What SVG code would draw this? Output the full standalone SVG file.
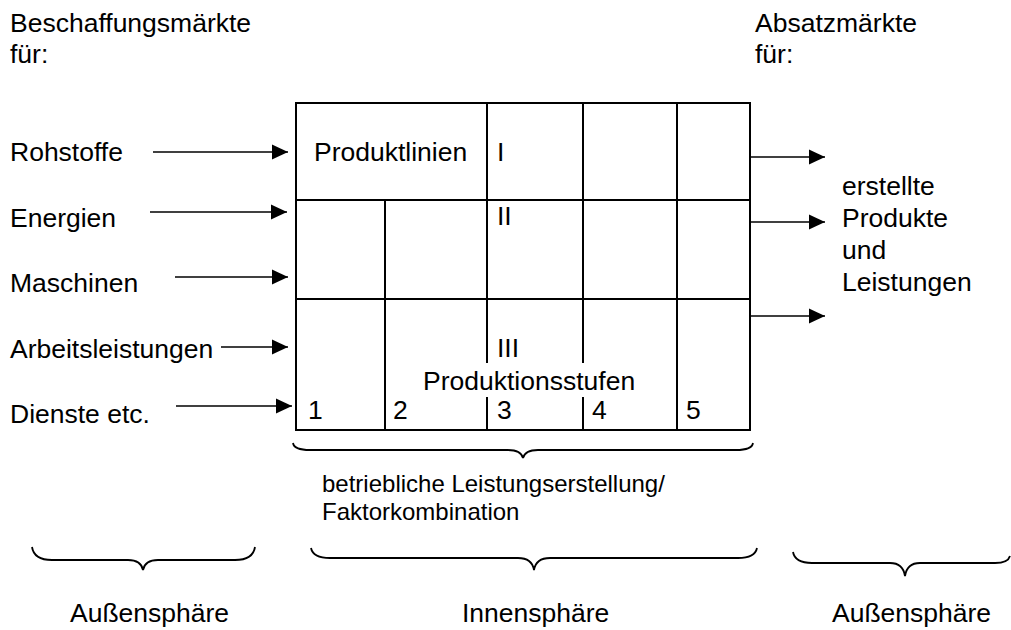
<svg xmlns="http://www.w3.org/2000/svg" width="1011" height="630" viewBox="0 0 1011 630">
<style>
text{font-family:"Liberation Sans",Arial,Helvetica,sans-serif;font-size:26.5px;fill:#000}
.sm{font-size:24px}
.grid{stroke:#000;stroke-width:2;fill:none}
.arr{stroke:#000;stroke-width:1.6;fill:none;marker-end:url(#ah)}
.brace{stroke:#000;stroke-width:1.8;fill:none}
</style>
<defs>
<marker id="ah" markerWidth="16" markerHeight="16" refX="16" refY="8" orient="auto" markerUnits="userSpaceOnUse"><path d="M0,0.5 L16,8 L0,15.5 z" fill="#000"/></marker>
</defs>
<rect width="1011" height="630" fill="#fff"/>
<g id="header-left"><text x="10" y="32">Beschaffungsmärkte</text><text x="10" y="63">für:</text></g>
<g id="header-right"><text x="755" y="32">Absatzmärkte</text><text x="755" y="63">für:</text></g>
<g id="inputs">
<text x="10" y="161">Rohstoffe</text>
<text x="10" y="227">Energien</text>
<text x="10" y="292">Maschinen</text>
<text x="10" y="358">Arbeitsleistungen</text>
<text x="10" y="423">Dienste etc.</text>
</g>
<g id="grid">
<rect class="grid" x="296" y="103" width="454" height="327"/>
<line class="grid" x1="296" y1="200" x2="750" y2="200"/>
<line class="grid" x1="296" y1="299" x2="750" y2="299"/>
<line class="grid" x1="487" y1="103" x2="487" y2="363"/>
<line class="grid" x1="487" y1="397" x2="487" y2="430"/>
<line class="grid" x1="583" y1="103" x2="583" y2="363"/>
<line class="grid" x1="583" y1="397" x2="583" y2="430"/>
<line class="grid" x1="677" y1="103" x2="677" y2="430"/>
<line class="grid" x1="385" y1="200" x2="385" y2="430"/>
<text x="314" y="161">Produktlinien</text>
<text x="497" y="161">I</text>
<text x="497" y="225">II</text>
<text x="497" y="357">III</text>
<text x="423" y="390">Produktionsstufen</text>
<text x="308" y="419">1</text>
<text x="393" y="419">2</text>
<text x="497" y="419">3</text>
<text x="592" y="419">4</text>
<text x="686" y="419">5</text>
</g>
<g id="outputs">
<text x="842" y="195">erstellte</text>
<text x="842" y="227">Produkte</text>
<text x="842" y="259">und</text>
<text x="842" y="291">Leistungen</text>
</g>
<g id="connectors">
<line class="arr" x1="153" y1="152" x2="288" y2="152"/>
<line class="arr" x1="150" y1="212" x2="287" y2="212"/>
<line class="arr" x1="175" y1="277" x2="288" y2="277"/>
<line class="arr" x1="221" y1="347" x2="288" y2="347"/>
<line class="arr" x1="176" y1="406" x2="292" y2="406"/>
<line class="arr" x1="751" y1="157" x2="825" y2="157"/>
<line class="arr" x1="751" y1="222" x2="825" y2="222"/>
<line class="arr" x1="751" y1="316" x2="825" y2="316"/>
</g>
<g id="braces">
<path class="brace" d="M293,443 Q294,450 310,450 L508,450 Q521,450 523,458 Q525,450 538,450 L736,450 Q752,450 753,443"/>
<path class="brace" d="M32,547 Q34,560 52,560 L128,560 Q141,560 143,570 Q145,560 158,560 L235,560 Q253,560 255,547"/>
<path class="brace" d="M311,548 Q313,558 330,558 L518,558 Q532,558 534,570 Q536,558 550,558 L738,558 Q755,558 757,548"/>
<path class="brace" d="M793,552 Q795,563 812,563 L890,563 Q903,563 905,576 Q907,563 920,563 L995,563 Q1008,563 1010,556"/>
</g>
<g id="labels">
<text class="sm" x="322" y="492">betriebliche Leistungserstellung/</text>
<text class="sm" x="322" y="520">Faktorkombination</text>
<text x="70" y="622">Außensphäre</text>
<text x="462" y="622">Innensphäre</text>
<text x="832" y="622">Außensphäre</text>
</g>
</svg>
